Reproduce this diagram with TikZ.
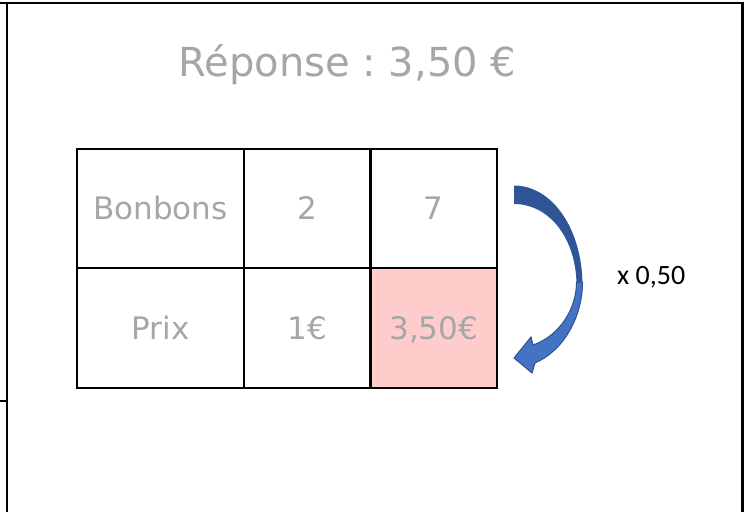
\documentclass[tikz,border=0pt]{standalone}
\usepackage{fontspec}
\setmainfont{DejaVu Sans}
\newfontfamily\factorfont{Carlito}
\usetikzlibrary{positioning}

\definecolor{answergray}{HTML}{A6A6A6}
\definecolor{pricepink}{HTML}{FFCCCC}
\definecolor{arrowblue}{HTML}{4472C4}
\definecolor{arrowback}{HTML}{2F5597}
\definecolor{arrowedge}{HTML}{2F528F}

\begin{document}
\frenchspacing
\begin{tikzpicture}
  [x=1pt,y=-1pt,line join=miter,
   % Styles
   frame line/.style={line width=2.4pt},
   cell/.style={draw,line width=2.3pt,inner sep=0pt,outer sep=0pt,
     minimum width=126.5pt,minimum height=119.5pt,
     text=answergray,font=\fontsize{31}{31}\selectfont,
     text height=22.6pt,text depth=0pt},
   answer text/.style={text=answergray,font=\fontsize{40}{40}\selectfont,inner sep=0pt},
   factor text/.style={font=\factorfont\fontsize{28}{28}\selectfont,inner sep=0pt}]

  \useasboundingbox (0,0) rectangle (744,512);

  % The frame
  \draw[frame line] (0,3) -- (742.5,3) -- (742.5,512);
  \draw[frame line] (7,3) -- (7,512);
  \draw[frame line] (0,401) -- (7,401);

  % The title
  \node[answer text,anchor=base] (answer) at (347.5,76) {Réponse : 3,50 €};

  % The table
  \node[cell,minimum width=167pt] (bonbons) at (160.5,208.5) {Bonbons};
  \node[cell,right=0pt of bonbons] (two) {2};
  \node[cell,right=0pt of two] (seven) {7};
  \node[cell,minimum width=167pt,below=0pt of bonbons] (prix) {Prix};
  \node[cell,right=0pt of prix] (one) {1€};
  \node[cell,fill=pricepink,right=0pt of one] (total) {3,50€};

  % The curved arrow
  \fill[arrowback] (514,185.5) .. controls (551.5,185.5) and (582.5,228) .. (582.5,286)
    -- (576.5,286) .. controls (576.5,238) and (549,204) .. (514,204) -- cycle;
  \filldraw[fill=arrowblue,draw=arrowedge,line width=1pt]
    (576.5,282) .. controls (576.5,309.5) and (559,336) .. (533,345)
    -- (531,337) -- (514,358) -- (532,373) -- (535,363)
    .. controls (563,351) and (582.5,317.7) .. (582.5,282) -- cycle;

  \node[factor text,anchor=base west] (factor) at (617,284) {x 0,50};
\end{tikzpicture}
\end{document}
